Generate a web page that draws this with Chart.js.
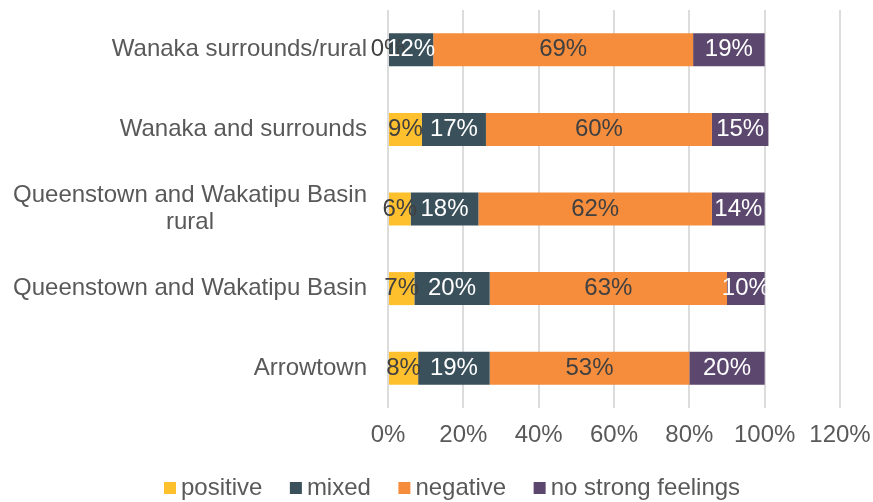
<!DOCTYPE html>
<html>
<head>
<meta charset="utf-8">
<script src="https://cdn.jsdelivr.net/npm/chart.js@4/dist/chart.umd.min.js"></script>
<style>
  html, body { margin: 0; padding: 0; background: #ffffff; }
  #wrap { width: 873px; height: 502px; }
</style>
</head>
<body>
<div id="wrap"><canvas id="chart" width="873" height="502"></canvas></div>
<script>
// Feelings about the area, share of respondents by location (%)
const categories = [
  'Wanaka surrounds/rural',
  'Wanaka and surrounds',
  ['Queenstown and Wakatipu Basin', 'rural'],
  'Queenstown and Wakatipu Basin',
  'Arrowtown'
];
const positive = [0, 9, 6, 7, 8];
const mixed    = [12, 17, 18, 20, 19];
const negative = [69, 60, 62, 63, 53];
const noStrong = [19, 15, 14, 10, 20];
const seriesNames = ['positive', 'mixed', 'negative', 'no strong feelings'];
const xTickValues = [0, 20, 40, 60, 80, 100, 120];

const FONT = '"Liberation Sans", Arial, Helvetica, sans-serif';
const TEXT_GREY = '#595959';
const seriesColors = ['#FFC02E', '#3A505B', '#F58D3D', '#5C476F'];
const valueColors  = ['#404040', '#ffffff', '#404040', '#ffffff'];
const seriesValues = [positive, mixed, negative, noStrong];

Chart.defaults.font.family = FONT;
Chart.defaults.font.size = 24;
Chart.defaults.color = TEXT_GREY;

// Category names: block right-aligned against the axis, wrapped lines centred on each other
const categoryLabels = {
  id: 'categoryLabels',
  afterDraw(chart) {
    const ctx = chart.ctx;
    const ys = chart.scales.y;
    const lineH = 27;
    const right = chart.chartArea.left - 21;
    ctx.save();
    ctx.font = '24px ' + FONT;
    ctx.fillStyle = TEXT_GREY;
    ctx.textAlign = 'center';
    ctx.textBaseline = 'middle';
    chart.data.labels.forEach((lab, i) => {
      const lines = Array.isArray(lab) ? lab : [lab];
      const w = Math.max(...lines.map(l => ctx.measureText(l).width));
      const cx = right - w / 2;
      const y0 = ys.getPixelForValue(i) - (lines.length - 1) * lineH / 2;
      lines.forEach((l, k) => ctx.fillText(l, cx, y0 + k * lineH));
    });
    ctx.restore();
  }
};

// Percentage written in the middle of every segment
const valueLabels = {
  id: 'valueLabels',
  afterDatasetsDraw(chart) {
    const ctx = chart.ctx;
    ctx.save();
    ctx.font = '24px ' + FONT;
    ctx.textAlign = 'center';
    ctx.textBaseline = 'middle';
    chart.data.datasets.forEach((ds, d) => {
      const meta = chart.getDatasetMeta(d);
      ctx.fillStyle = ds.valueColor;
      meta.data.forEach((bar, i) => {
        const p = bar.getProps(['x', 'y', 'base'], true);
        ctx.fillText(ds.data[i] + '%', (p.x + p.base) / 2, p.y);
      });
    });
    ctx.restore();
  }
};

// Legend row under the axis
const legendRow = {
  id: 'legendRow',
  afterDraw(chart) {
    const ctx = chart.ctx;
    const box = 12, gapText = 5, gapItem = 27.5, yc = 488;
    let x = 164;
    ctx.save();
    ctx.font = '24px ' + FONT;
    ctx.textAlign = 'left';
    ctx.textBaseline = 'middle';
    chart.data.datasets.forEach(ds => {
      ctx.fillStyle = ds.backgroundColor;
      ctx.fillRect(x, yc - box / 2, box, box);
      x += box + gapText;
      ctx.fillStyle = TEXT_GREY;
      ctx.fillText(ds.label, x, yc);
      x += ctx.measureText(ds.label).width + gapItem;
    });
    ctx.restore();
  }
};

const datasets = seriesNames.map((name, k) => ({
  label: name,
  data: seriesValues[k],
  backgroundColor: seriesColors[k],
  borderWidth: 0,
  valueColor: valueColors[k],
  categoryPercentage: 1,
  barPercentage: 0.415
}));

new Chart(document.getElementById('chart'), {
  type: 'bar',
  data: { labels: categories, datasets },
  options: {
    indexAxis: 'y',
    responsive: false,
    animation: false,
    devicePixelRatio: 1,
    layout: { padding: { top: 10, right: 33, bottom: 44, left: 0 } },
    plugins: {
      legend: { display: false },
      tooltip: { enabled: false }
    },
    scales: {
      x: {
        stacked: true,
        min: 0,
        max: 120,
        afterBuildTicks(scale) {
          scale.ticks = xTickValues.map(v => ({ value: v }));
        },
        afterFit(scale) {
          scale.height = 50;
          scale.paddingLeft = 0;
          scale.paddingRight = 0;
        },
        ticks: {
          padding: 13,
          color: TEXT_GREY,
          font: { size: 24 },
          maxRotation: 0,
          callback: v => v + '%'
        },
        grid: { color: '#dcdcdc', lineWidth: 2, drawTicks: false },
        border: { display: false }
      },
      y: {
        stacked: true,
        afterFit(scale) { scale.width = 388; },
        ticks: { display: false },
        grid: { display: false, drawTicks: false },
        border: { display: false }
      }
    }
  },
  plugins: [valueLabels, categoryLabels, legendRow]
});
</script>
</body>
</html>
